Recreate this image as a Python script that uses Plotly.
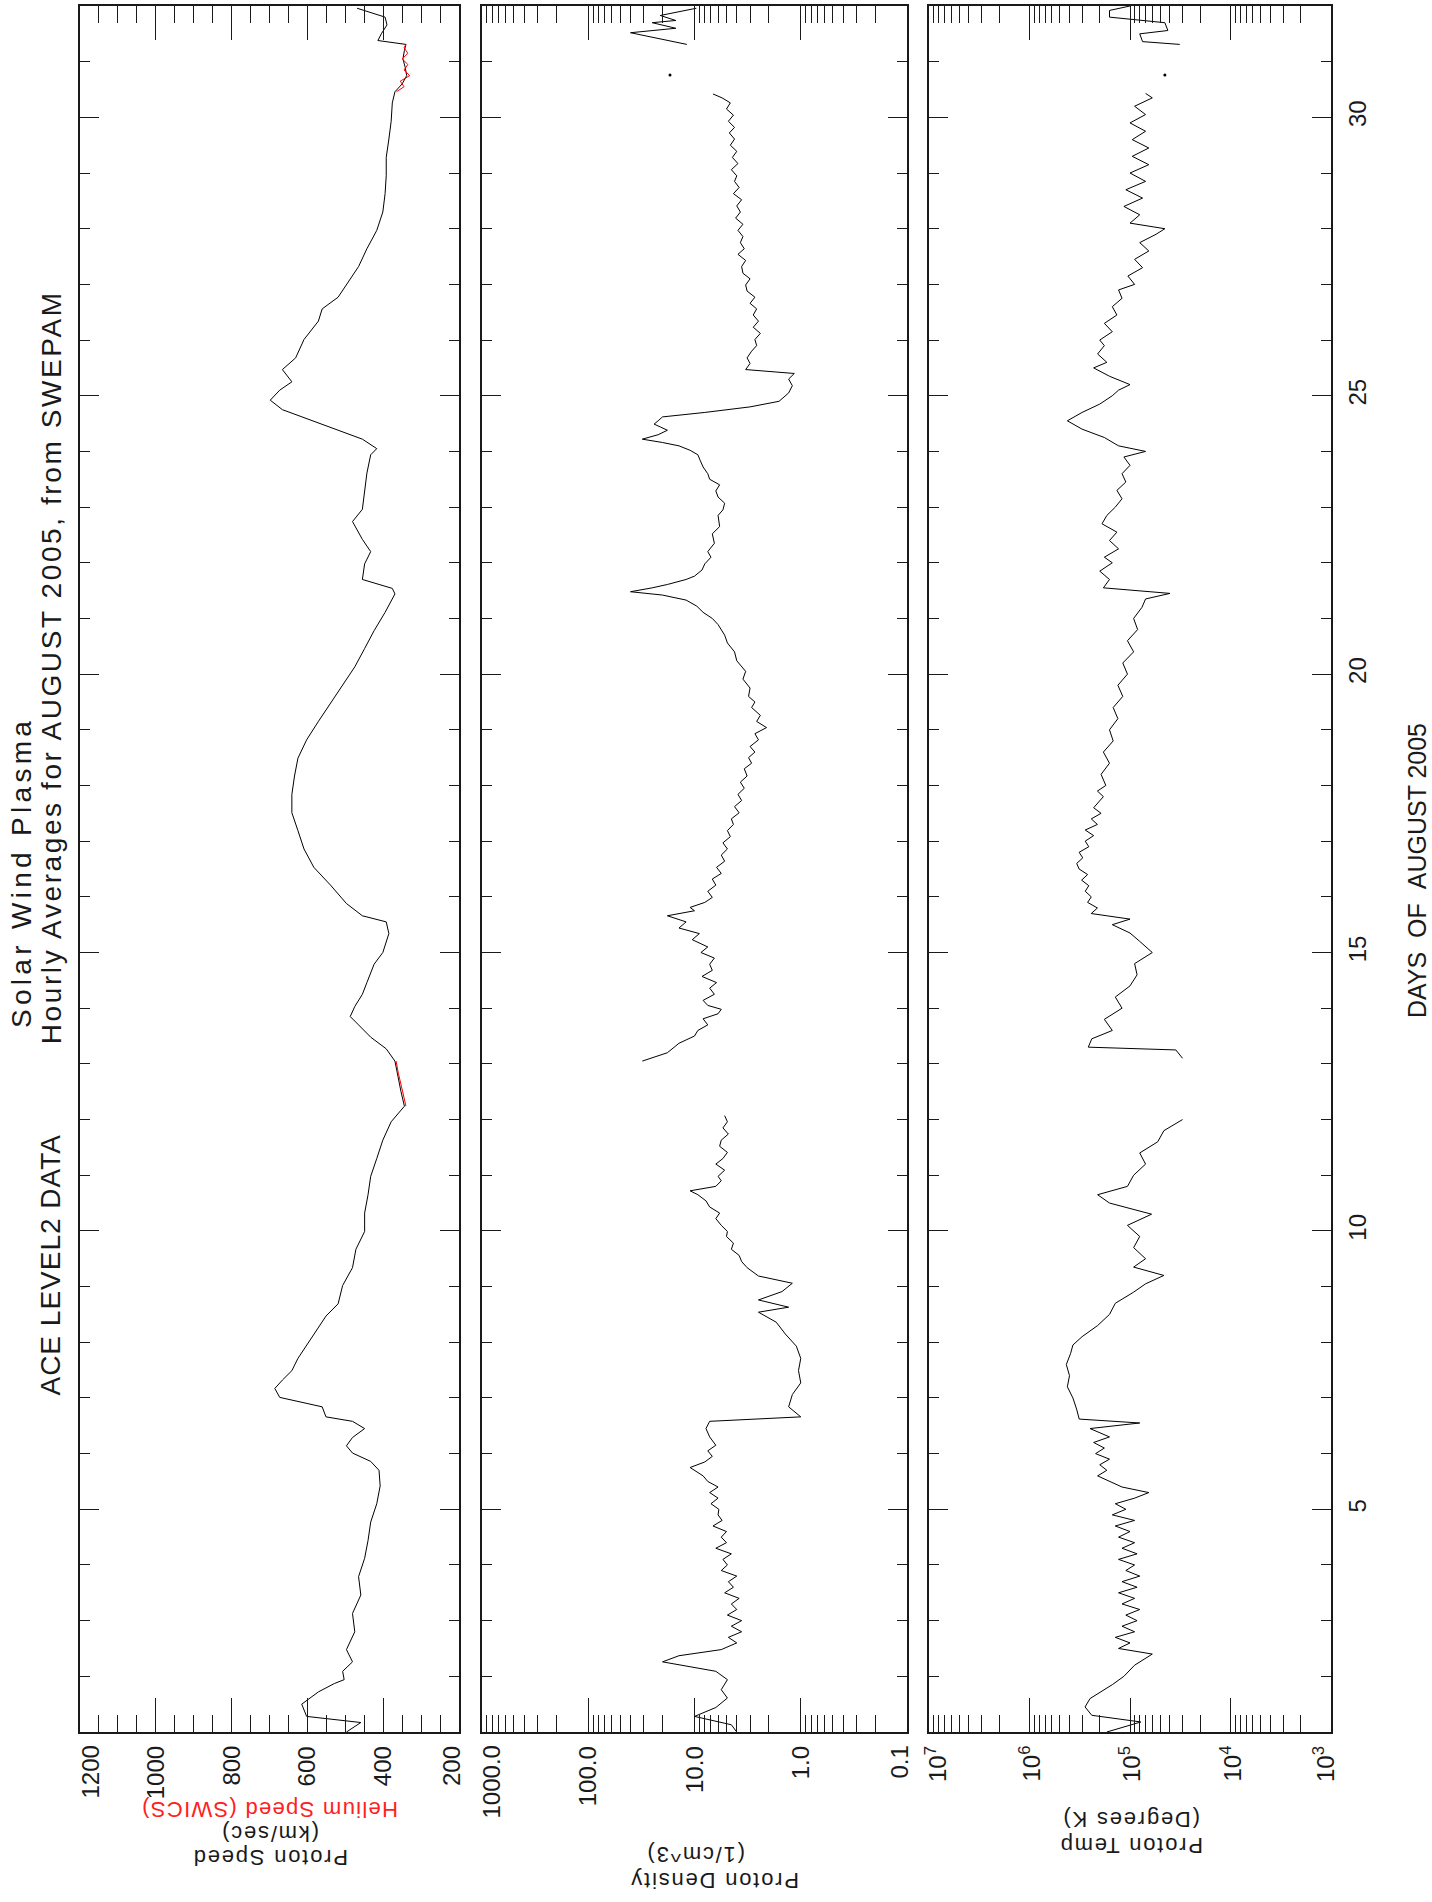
import math
import plotly.graph_objects as go

# ---------------- data (hourly averages, August 2005) ----------------
speed_day = [1.00, 1.17, 1.28, 1.50, 1.72, 1.87, 1.94, 2.09, 2.26, 2.48,
             2.80, 3.13, 3.46, 3.79, 4.12, 4.44, 4.77, 5.10, 5.42, 5.70,
             5.86, 6.01, 6.14, 6.29, 6.45, 6.58, 6.66, 6.84, 7.01, 7.17,
             7.32, 7.49, 7.71, 8.04, 8.25, 8.47, 8.69, 9.02, 9.34, 9.67,
             9.99, 10.32, 10.65, 10.98, 11.30, 11.63, 11.96, 12.24, 12.50, 12.83,
             13.05, 13.27, 13.48, 13.70, 13.85, 14.03, 14.25, 14.46, 14.79, 15.00,
             15.34, 15.55, 15.66, 15.88, 16.21, 16.53, 16.86, 17.19, 17.51, 17.84,
             18.17, 18.49, 18.82, 19.15, 19.47, 19.80, 20.13, 20.46, 20.78, 21.11,
             21.44, 21.54, 21.70, 21.98, 22.20, 22.42, 22.74, 22.96, 23.29, 23.61,
             23.94, 24.05, 24.22, 24.44, 24.60, 24.75, 24.92, 25.10, 25.25, 25.47,
             25.68, 26.01, 26.34, 26.56, 26.77, 26.99, 27.32, 27.64, 27.97, 28.30,
             28.63, 28.95, 29.28, 29.61, 29.93, 30.26, 30.46, 30.60, 30.75, 30.90,
             31.05, 31.20, 31.31, 31.38, 31.50, 31.66, 31.80, 31.96]
speed_kms = [497, 459, 602, 615, 571, 529, 503, 507, 481, 497,
             475, 481, 459, 465, 449, 440, 433, 417, 408, 411,
             433, 481, 497, 481, 449, 481, 551, 561, 673, 686,
             666, 641, 625, 593, 571, 551, 519, 507, 481, 472,
             449, 449, 440, 433, 417, 401, 379, 344, 353, 363,
             369, 392, 433, 465, 487, 475, 455, 443, 424, 401,
             385, 392, 455, 497, 539, 583, 609, 625, 641, 641,
             634, 625, 602, 571, 539, 507, 475, 449, 424, 395,
             369, 376, 455, 449, 433, 455, 481, 455, 449, 443,
             433, 417, 455, 545, 609, 666, 698, 673, 641, 666,
             631, 609, 571, 561, 519, 497, 465, 443, 417, 401,
             395, 392, 392, 385, 379, 376, 369, 350, 338, 342,
             348, 344, 340, 414, 405, 390, 395, 469]

helium_day = [12.24, 12.40, 12.60, 12.83, 13.05, None,
              30.46, 30.55, 30.65, 30.75, 30.85, 30.95, 31.05, 31.15, 31.25, 31.31]
helium_kms = [340, 346, 352, 360, 366, None,
              365, 345, 355, 330, 345, 335, 350, 335, 345, 340]

density_day = [1.00, 1.13, 1.28, 1.44, 1.61, 1.76, 1.94, 2.09, 2.26, 2.37,
               2.48, 2.60, 2.70, 2.80, 2.90, 3.00, 3.10, 3.20, 3.30, 3.40,
               3.50, 3.60, 3.70, 3.80, 3.90, 4.00, 4.10, 4.20, 4.30, 4.40,
               4.50, 4.60, 4.70, 4.80, 4.90, 5.00, 5.10, 5.20, 5.30, 5.40,
               5.50, 5.60, 5.75, 5.85, 5.95, 6.05, 6.15, 6.30, 6.45, 6.58,
               6.66, 6.84, 7.06, 7.27, 7.49, 7.71, 7.93, 8.15, 8.36, 8.54,
               8.63, 8.76, 8.91, 9.06, 9.19, 9.34, 9.45, 9.56, 9.67, 9.78,
               9.90, 9.99, 10.10, 10.22, 10.32, 10.43, 10.54, 10.65, 10.72, 10.80,
               10.90, 10.98, 11.09, 11.20, 11.30, 11.41, 11.52, 11.63, 11.74, 11.85,
               11.96, 12.07, 12.50, 13.05, 13.20, 13.37, 13.50, 13.60, 13.70, 13.81,
               13.90, 13.98, 14.05, 14.14, 14.25, 14.36, 14.46, 14.57, 14.68, 14.79,
               14.90, 15.00, 15.10, 15.23, 15.34, 15.44, 15.55, 15.66, 15.75, 15.81,
               15.90, 15.99, 16.10, 16.21, 16.32, 16.42, 16.53, 16.64, 16.75, 16.86,
               16.97, 17.08, 17.19, 17.30, 17.40, 17.51, 17.62, 17.73, 17.84, 17.95,
               18.06, 18.17, 18.30, 18.40, 18.50, 18.60, 18.70, 18.82, 18.93, 19.04,
               19.15, 19.26, 19.40, 19.50, 19.60, 19.75, 19.91, 20.05, 20.24, 20.40,
               20.56, 20.70, 20.89, 21.00, 21.11, 21.22, 21.33, 21.42, 21.48, 21.55,
               21.61, 21.70, 21.76, 21.87, 21.98, 22.10, 22.20, 22.35, 22.52, 22.65,
               22.85, 22.95, 23.07, 23.18, 23.29, 23.40, 23.50, 23.60, 23.72, 23.83,
               23.94, 24.02, 24.10, 24.16, 24.22, 24.30, 24.38, 24.44, 24.49, 24.55,
               24.62, 24.70, 24.80, 24.90, 25.05, 25.18, 25.30, 25.40, 25.47, 25.58,
               25.68, 25.80, 25.90, 26.01, 26.12, 26.23, 26.34, 26.45, 26.56, 26.66,
               26.77, 26.88, 26.99, 27.10, 27.20, 27.32, 27.43, 27.54, 27.64, 27.75,
               27.86, 27.97, 28.08, 28.19, 28.30, 28.41, 28.52, 28.63, 28.74, 28.85,
               28.95, 29.06, 29.17, 29.28, 29.39, 29.50, 29.61, 29.72, 29.82, 29.93,
               30.04, 30.15, 30.26, 30.35, 30.42, 30.60, 31.31, 31.52, 31.60, 31.70,
               31.74, 31.83, 31.96]
density_cm3 = [4.0, 4.5, 10.0, 6.3, 4.9, 5.6, 4.9, 6.3, 20.0, 14.0,
               5.6, 4.0, 4.8, 3.6, 4.5, 3.6, 4.9, 4.0, 4.5, 3.8,
               5.2, 4.3, 4.8, 4.0, 5.6, 4.9, 5.4, 4.5, 6.3, 5.0,
               5.6, 5.0, 6.7, 5.5, 6.0, 5.9, 7.0, 6.0, 7.2, 6.0,
               7.5, 8.3, 11.0, 8.0, 6.8, 7.5, 6.3, 7.2, 7.8, 7.2,
               1.0, 1.3, 1.2, 1.0, 1.05, 1.0, 1.1, 1.4, 1.7, 2.5,
               1.3, 2.5, 1.5, 1.2, 2.5, 3.2, 3.6, 3.8, 4.5, 4.3,
               5.0, 4.9, 5.6, 6.3, 5.8, 7.2, 7.8, 9.3, 11.0, 6.3,
               5.6, 6.0, 5.2, 6.3, 5.4, 4.9, 5.8, 5.6, 4.8, 5.4,
               4.9, 5.2, None, 31.0, 18.0, 14.0, 10.0, 9.3, 7.5, 8.3,
               6.0, 5.6, 7.5, 8.3, 6.5, 7.2, 6.2, 8.5, 6.8, 7.2,
               6.5, 8.7, 7.5, 10.5, 9.0, 14.0, 12.0, 18.0, 10.0, 11.0,
               8.0, 6.8, 7.5, 6.3, 6.8, 5.6, 6.2, 5.2, 5.6, 4.9,
               5.4, 4.6, 4.9, 4.3, 4.5, 3.8, 4.2, 3.6, 3.9, 3.4,
               3.7, 3.2, 3.4, 2.9, 3.1, 2.7, 3.0, 2.5, 2.7, 2.1,
               2.6, 2.4, 2.9, 2.7, 3.1, 3.0, 3.5, 3.3, 4.0, 4.2,
               4.9, 5.2, 6.0, 6.8, 8.3, 9.5, 12.0, 20.0, 40.0, 25.0,
               18.0, 12.0, 10.0, 8.5, 8.0, 7.0, 7.5, 6.5, 6.8, 5.8,
               6.0, 5.4, 5.2, 6.0, 6.3, 5.8, 7.2, 7.5, 8.3, 8.8,
               9.3, 11.0, 14.0, 20.0, 31.0, 22.0, 18.0, 21.0, 24.0, 22.0,
               20.0, 8.0, 3.0, 1.6, 1.3, 1.2, 1.3, 1.15, 3.3, 3.0,
               3.2, 2.9, 2.6, 2.7, 2.4, 2.8, 2.5, 2.8, 2.6, 3.0,
               2.7, 3.2, 3.3, 3.0, 3.5, 3.6, 3.3, 3.9, 3.4, 3.7,
               3.5, 3.9, 3.5, 4.1, 3.7, 4.0, 3.6, 4.3, 3.8, 4.2,
               4.0, 4.5, 3.9, 4.4, 4.0, 4.6, 4.2, 4.7, 4.2, 4.8,
               4.3, 5.0, 4.6, 5.5, 6.7, None, 11.8, 40.0, 15.0, 25.0,
               15.0, 21.0, 9.6]

temp_day = [1.00, 1.18, 1.30, 1.45, 1.60, 1.85, 2.00, 2.20, 2.40, 2.50,
            2.60, 2.70, 2.80, 2.90, 3.00, 3.10, 3.20, 3.30, 3.40, 3.50,
            3.60, 3.70, 3.80, 3.90, 4.00, 4.10, 4.20, 4.30, 4.40, 4.50,
            4.60, 4.70, 4.80, 4.90, 5.00, 5.10, 5.20, 5.30, 5.40, 5.50,
            5.60, 5.70, 5.80, 5.90, 6.00, 6.10, 6.20, 6.30, 6.45, 6.55,
            6.62, 6.80, 7.00, 7.20, 7.40, 7.60, 7.80, 7.95, 8.10, 8.30,
            8.50, 8.70, 8.90, 9.05, 9.20, 9.35, 9.50, 9.70, 9.90, 10.10,
            10.30, 10.50, 10.65, 10.80, 11.00, 11.20, 11.40, 11.60, 11.80, 12.00,
            12.50, 13.10, 13.25, 13.30, 13.45, 13.60, 13.80, 14.00, 14.20, 14.40,
            14.60, 14.80, 15.00, 15.20, 15.35, 15.50, 15.60, 15.70, 15.80, 15.90,
            16.00, 16.10, 16.20, 16.30, 16.40, 16.50, 16.60, 16.70, 16.80, 16.90,
            17.00, 17.10, 17.20, 17.30, 17.40, 17.50, 17.60, 17.80, 17.90, 18.00,
            18.20, 18.40, 18.60, 18.80, 19.00, 19.20, 19.40, 19.60, 19.80, 20.00,
            20.20, 20.40, 20.60, 20.80, 21.00, 21.20, 21.35, 21.45, 21.55, 21.70,
            21.85, 22.00, 22.10, 22.25, 22.40, 22.55, 22.70, 22.85, 23.00, 23.15,
            23.30, 23.45, 23.60, 23.75, 23.90, 24.00, 24.10, 24.25, 24.40, 24.55,
            24.70, 24.85, 25.00, 25.10, 25.20, 25.35, 25.50, 25.60, 25.75, 25.90,
            26.00, 26.15, 26.30, 26.45, 26.60, 26.75, 26.90, 27.00, 27.15, 27.30,
            27.45, 27.60, 27.75, 27.90, 28.00, 28.10, 28.25, 28.40, 28.55, 28.70,
            28.85, 29.00, 29.15, 29.30, 29.45, 29.60, 29.75, 29.90, 30.05, 30.20,
            30.35, 30.43, 30.60, 31.31, 31.36, 31.50, 31.56, 31.70, 31.80, 31.92,
            32.00]
temp_k = [1.7e5, 7.8e4, 2.4e5, 2.8e5, 2.5e5, 1.5e5, 1.15e5, 9.0e4, 6.0e4, 1.3e5,
          1.0e5, 1.4e5, 9.0e4, 1.2e5, 8.5e4, 1.1e5, 8.0e4, 1.2e5, 9.0e4, 1.3e5,
          8.5e4, 1.2e5, 8.0e4, 1.1e5, 9.0e4, 1.3e5, 8.5e4, 1.2e5, 9.0e4, 1.3e5,
          1.0e5, 1.4e5, 9.0e4, 1.5e5, 1.1e5, 1.4e5, 9.0e4, 6.5e4, 1.2e5, 1.6e5,
          2.1e5, 1.7e5, 2.0e5, 1.6e5, 2.2e5, 1.8e5, 2.3e5, 1.6e5, 2.5e5, 8.0e4,
          3.2e5, 3.4e5, 3.7e5, 4.2e5, 4.0e5, 4.3e5, 3.9e5, 3.7e5, 3.0e5, 2.1e5,
          1.6e5, 1.4e5, 9.2e4, 7.0e4, 4.6e4, 9.2e4, 7.0e4, 9.2e4, 8.0e4, 1.06e5,
          6.1e4, 1.6e5, 2.1e5, 1.06e5, 9.2e4, 7.0e4, 8.0e4, 5.3e4, 4.6e4, 3.0e4,
          None, 3.0e4, 3.5e4, 2.6e5, 2.4e5, 1.5e5, 1.8e5, 1.2e5, 1.4e5, 1.0e5,
          8.5e4, 9.0e4, 6.0e4, 8.0e4, 1.0e5, 1.5e5, 1.0e5, 2.43e5, 2.11e5, 2.64e5,
          2.43e5, 2.79e5, 2.57e5, 3.03e5, 2.64e5, 3.21e5, 3.39e5, 2.95e5, 3.21e5, 2.57e5,
          2.79e5, 2.30e5, 2.79e5, 2.11e5, 2.43e5, 1.94e5, 2.30e5, 1.84e5, 2.11e5, 1.74e5,
          1.94e5, 1.60e5, 1.84e5, 1.47e5, 1.60e5, 1.32e5, 1.47e5, 1.18e5, 1.32e5, 1.06e5,
          1.18e5, 9.2e4, 1.06e5, 8.4e4, 9.2e4, 7.6e4, 7.0e4, 4.0e4, 1.84e5, 1.6e5,
          2.0e5, 1.5e5, 1.8e5, 1.3e5, 1.6e5, 1.35e5, 1.9e5, 1.7e5, 1.4e5, 1.2e5,
          1.35e5, 1.1e5, 1.2e5, 1.0e5, 1.15e5, 7.0e4, 1.3e5, 1.8e5, 3.0e5, 4.2e5,
          3.0e5, 2.0e5, 1.5e5, 1.3e5, 1.0e5, 1.6e5, 2.3e5, 1.7e5, 2.1e5, 1.8e5,
          2.0e5, 1.5e5, 1.8e5, 1.35e5, 1.5e5, 1.2e5, 1.3e5, 9.0e4, 1.05e5, 7.5e4,
          9.0e4, 6.5e4, 8.0e4, 5.5e4, 4.5e4, 1.0e5, 8.0e4, 1.15e5, 7.5e4, 1.1e5,
          7.0e4, 1.0e5, 6.5e4, 9.5e4, 6.5e4, 9.5e4, 7.0e4, 1.0e5, 7.0e4, 9.0e4,
          6.0e4, 7.0e4, None, 3.2e4, 7.5e4, 8.0e4, 4.2e4, 4.5e4, 1.6e5, 1.6e5,
          1.0e5]

# isolated hourly sample between the data gaps
lone_day = [30.76]
lone_density = [17.0]
lone_temp = [4.5e4]

speed_ticks = [1200, 1000, 800, 600, 400, 200]
speed_labels = ["1200", "1000", "800", "600", "400", "200"]
density_ticks = [1000, 100, 10, 1, 0.1]
density_labels = ["1000.0", "100.0", "10.0", "1.0", "0.1"]
temp_ticks = [1e7, 1e6, 1e5, 1e4, 1e3]
temp_labels = ["10<sup>7</sup>", "10<sup>6</sup>", "10<sup>5</sup>",
               "10<sup>4</sup>", "10<sup>3</sup>"]
day_ticks = [5, 10, 15, 20, 25, 30]

# ---------------- layout geometry (pixels) ----------------
W, H = 1432, 1902
ML, MR, MT, MB = 80, 101, 4, 170
PW, PH = W - ML - MR, H - MT - MB


def fx(px):
    return (px - ML) / PW


def fy(py):
    return (H - MB - py) / PH


FONT = "Liberation Sans, Arial, Helvetica, sans-serif"
INK = "#1a1a1a"
LINE = dict(color="black", width=1)

fig = go.Figure()
fig.add_trace(go.Scatter(x=speed_kms, y=speed_day, mode="lines", line=LINE,
                         connectgaps=False, xaxis="x", yaxis="y"))
fig.add_trace(go.Scatter(x=helium_kms, y=helium_day, mode="lines",
                         line=dict(color="#ff0000", width=1),
                         connectgaps=False, xaxis="x", yaxis="y"))
fig.add_trace(go.Scatter(x=density_cm3, y=density_day, mode="lines", line=LINE,
                         connectgaps=False, xaxis="x2", yaxis="y2"))
fig.add_trace(go.Scatter(x=lone_density, y=lone_day, mode="markers",
                         marker=dict(color="black", size=3),
                         xaxis="x2", yaxis="y2"))
fig.add_trace(go.Scatter(x=temp_k, y=temp_day, mode="lines", line=LINE,
                         connectgaps=False, xaxis="x3", yaxis="y3"))
fig.add_trace(go.Scatter(x=lone_temp, y=lone_day, mode="markers",
                         marker=dict(color="black", size=3),
                         xaxis="x3", yaxis="y3"))


def value_axis(domain, rng, typ, tickvals, minor_vals, anchor):
    return dict(
        domain=domain, range=rng, type=typ, anchor=anchor,
        tickmode="array", tickvals=tickvals, showticklabels=False,
        ticks="inside", ticklen=34, tickwidth=1, tickcolor=INK,
        minor=dict(tickmode="array", tickvals=minor_vals, ticks="inside",
                   ticklen=17, tickwidth=1, tickcolor=INK, showgrid=False),
        showline=True, linecolor=INK, linewidth=1.5, mirror="allticks",
        showgrid=False, zeroline=False, side="bottom",
    )


def day_axis(anchor, labels):
    return dict(
        domain=[0, 1], range=[1, 32], anchor=anchor,
        tickmode="array", tickvals=day_ticks, ticktext=[str(d) for d in day_ticks],
        ticks="inside", ticklen=19, tickwidth=1, tickcolor=INK,
        minor=dict(tickmode="array",
                   tickvals=[d for d in range(2, 32) if d % 5],
                   ticks="inside", ticklen=10, tickwidth=1, tickcolor=INK,
                   showgrid=False),
        showline=True, linecolor=INK, linewidth=1.5, mirror="allticks",
        showgrid=False, zeroline=False, showticklabels=labels,
        side="right", tickangle=-90,
        tickfont=dict(family=FONT, size=24, color=INK),
        ticklabelstandoff=4,
    )


speed_minor = [v for v in range(250, 1200, 50) if v % 200]
log_minor = [m * 10.0 ** e for e in range(-1, 7) for m in range(2, 10)]

fig.update_layout(
    width=W, height=H, showlegend=False,
    paper_bgcolor="white", plot_bgcolor="white",
    margin=dict(l=ML, r=MR, t=MT, b=MB, pad=0),
    xaxis=value_axis([fx(80), fx(459)], [1200, 200], "linear", speed_ticks,
                     speed_minor, "y"),
    xaxis2=value_axis([fx(482), fx(907)], [3, -1], "log", density_ticks,
                      [v for v in log_minor if 0.1 < v < 1000], "y2"),
    xaxis3=value_axis([fx(929), fx(1331)], [7, 3], "log", temp_ticks,
                      [v for v in log_minor if 1e3 < v < 1e7], "y3"),
    yaxis=day_axis("x", False),
    yaxis2=day_axis("x2", False),
    yaxis3=day_axis("x3", True),
)

# value-axis tick labels, written bottom-to-top under each tick;
# the two end labels are nudged inward so they stay within their panel
for ref, vals, texts, logscale, end_shift in (
        ("x", speed_ticks, speed_labels, False, (10, -7)),
        ("x2", density_ticks, density_labels, True, (9, -8)),
        ("x3", temp_ticks, temp_labels, True, (7, -7))):
    for i, (v, t) in enumerate(zip(vals, texts)):
        shift = end_shift[0] if i == 0 else end_shift[1] if i == len(vals) - 1 else 0
        fig.add_annotation(
            text=t, x=math.log10(v) if logscale else v, y=fy(1744),
            xref=ref, yref="paper", xanchor="center", yanchor="top",
            xshift=shift, textangle=-90, showarrow=False,
            font=dict(family=FONT, size=24, color=INK),
        )


def spaced(text, ls):
    return f'<span style="letter-spacing:{ls}px">{text}</span>'


def note(text, px, py, angle, size, ls=0.0, color=INK):
    fig.add_annotation(
        text=spaced(text, ls) if ls else text,
        x=fx(px), y=fy(py), xref="paper", yref="paper",
        xanchor="center", yanchor="middle", textangle=angle, showarrow=False,
        font=dict(family=FONT, size=size, color=color),
    )


# titles along the left edge (read bottom to top)
note("Solar Wind Plasma", 22, 872, -90, 28, 4.3)
note("Hourly Averages for AUGUST 2005, from SWEPAM", 51, 666, -90, 28, 2.6)
note("ACE LEVEL2 DATA", 51, 1265, -90, 28, 1.0)
note("DAYS&nbsp;&nbsp;OF&nbsp;&nbsp;AUGUST 2005", 1417, 870, -90, 25, 0.0)

# axis titles below each panel (turned upside down)
note("Proton Speed", 270, 1857, 180, 22, 1.8)
note("(km/sec)", 270, 1833, 180, 22, 1.8)
note("Helium Speed (SWICS)", 270, 1809, 180, 22, 1.3, color="#ff2020")
note("Proton Density", 714, 1880, 180, 22, 1.8)
note("(1/cm^3)", 696, 1854, 180, 22, 1.8)
note("Proton Temp", 1131, 1845, 180, 22, 1.8)
note("(Degrees K)", 1131, 1819, 180, 22, 1.8)

fig.write_html("out.html")
